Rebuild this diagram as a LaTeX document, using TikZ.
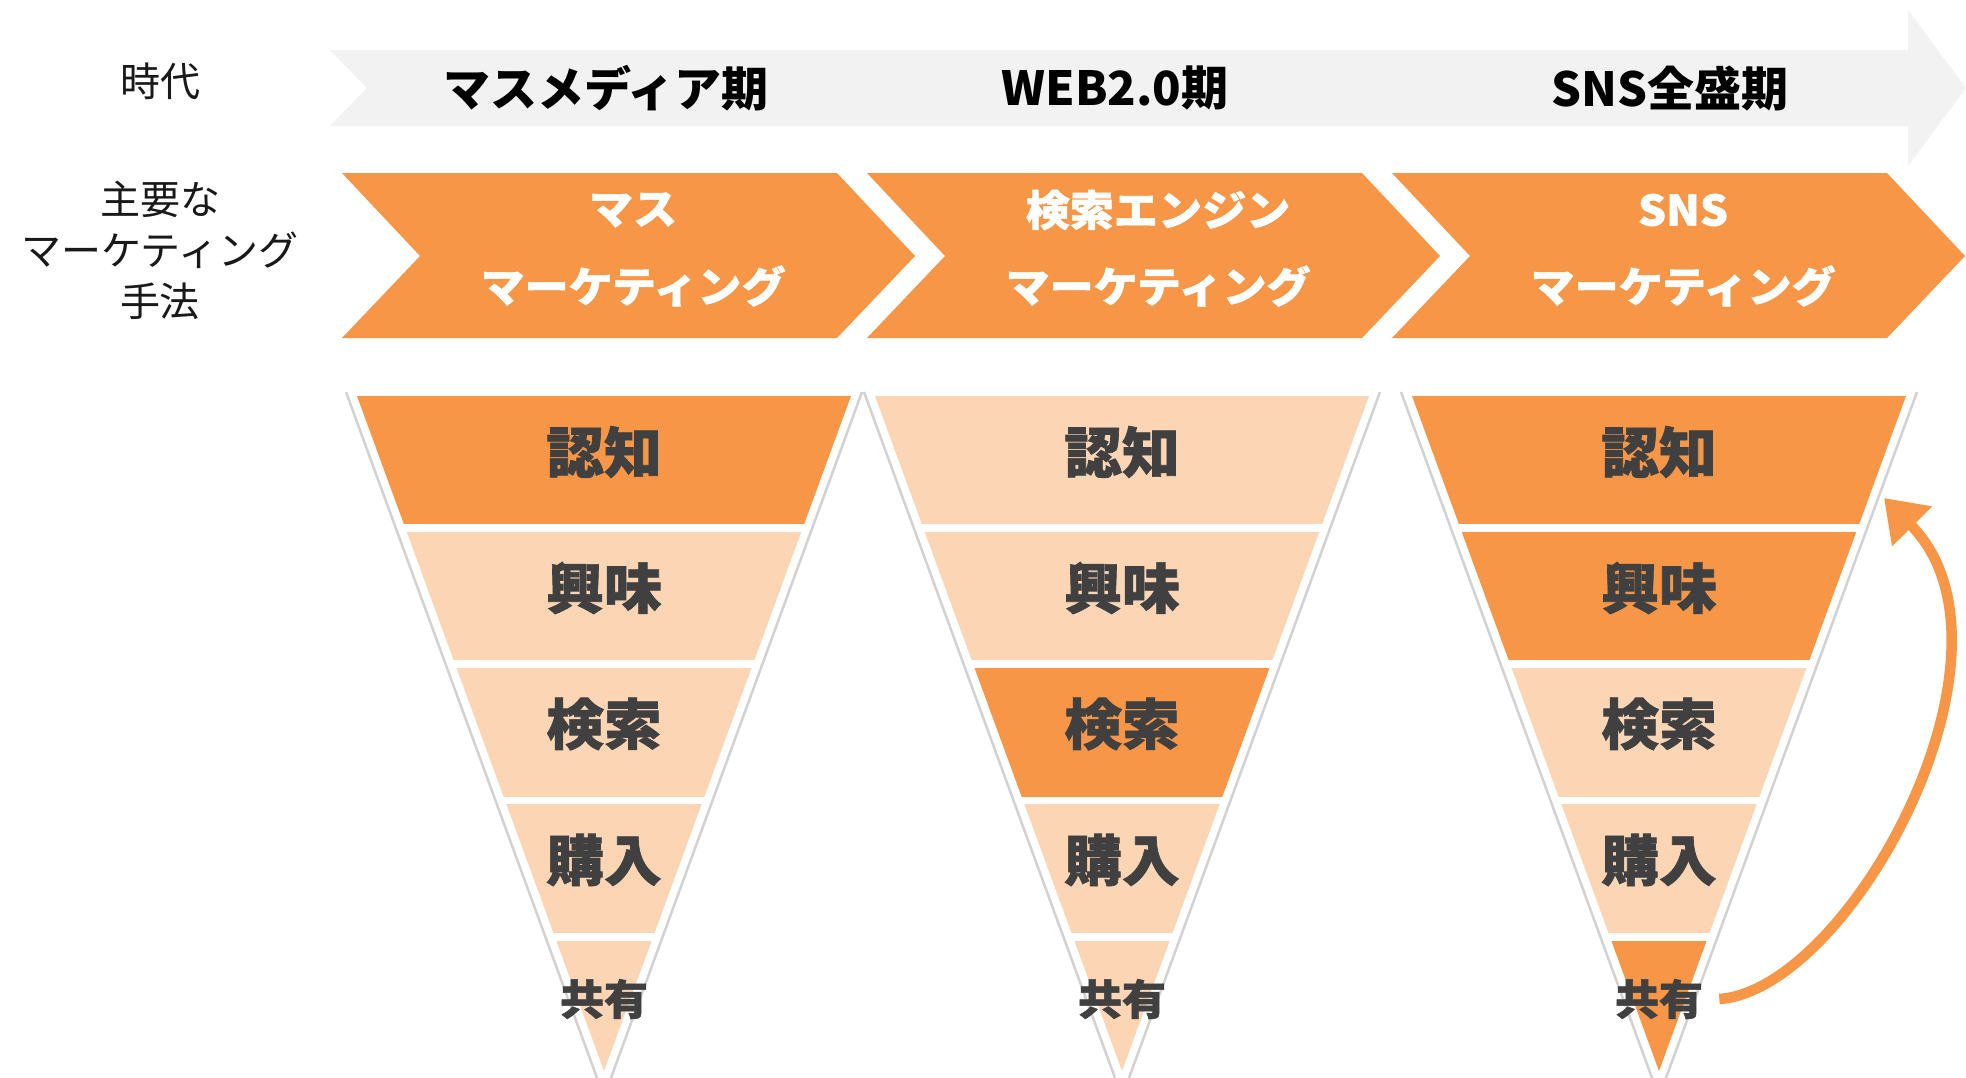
\documentclass[tikz,border=0pt]{standalone}
\usepackage{fontspec}
\setmainfont{Noto Sans CJK JP}
\newfontfamily\heavyjp{Noto Sans CJK JP}[BoldFeatures={FakeBold=1.2,FakeStretch=1.05}]
\usetikzlibrary{arrows.meta}
\definecolor{orD}{HTML}{F79646}
\definecolor{orL}{HTML}{FCD5B5}
\definecolor{arrgray}{HTML}{F2F2F2}
\definecolor{txtgray}{HTML}{404040}
\begin{document}
\begin{tikzpicture}[x=1pt,y=-1pt,
  toplbl/.style={font=\fontsize{47}{50}\selectfont\bfseries, text=black, inner sep=0pt},
  chevtxt/.style={font=\heavyjp\fontsize{42}{46}\selectfont\bfseries, text=white, inner sep=0pt},
  sidelbl/.style={font=\fontsize{40}{51}\selectfont, text=black!90, align=center, inner sep=0pt},
  funtxt/.style={font=\heavyjp\fontsize{55}{60}\selectfont\bfseries, text=txtgray, inner sep=0pt},
  funsmall/.style={font=\heavyjp\fontsize{42}{46}\selectfont\bfseries, text=txtgray, inner sep=0pt},
  chevron/.style={fill=orD},
  border/.style={draw=gray!35, line width=2.5pt},
  sharearrow/.style={draw=orD, line width=10.5pt, -{Triangle[length=40pt,width=54pt]}}
]
\useasboundingbox (0,0) rectangle (1966,1077);
\fill[white] (0,0) rectangle (1966,1077);

% era arrow
\fill[arrgray] (330,50) -- (1908,50) -- (1908,10) -- (1966,88) -- (1908,166) -- (1908,126) -- (330,126) -- (367,88) -- cycle;
\node[sidelbl] (era) at (160,81) {時代};
\node[toplbl] (e1) at (606,88) {マスメディア期};
\node[toplbl] (e2) at (1115,88) {WEB2.0期};
\node[toplbl] (e3) at (1670,88) {SNS全盛期};

% chevrons
\node[sidelbl] (method) at (160,250) {主要な\\マーケティング\\手法};
\foreach \L/\nm/\top in {342/a/マス, 867/b/検索エンジン, 1392/c/SNS}{
  \fill[chevron] (\L,173) -- ({\L+495},173) -- ({\L+573},256) -- ({\L+495},338) -- (\L,338) -- ({\L+78},256) -- cycle;
  \node[chevtxt] (ch\nm-1) at ({\L+291},210) {\top};
  \node[chevtxt] (ch\nm-2) at ({\L+291},286) {マーケティング};
}

% funnels
\foreach \c/\ca/\cb/\cc/\cd/\ce/\nm in {604/orD/orL/orL/orL/orL/a, 1122/orL/orL/orD/orL/orL/b, 1659/orD/orD/orL/orL/orD/c}{
  \draw[border] ({\c-258},392) -- (\c,1097) -- ({\c+258},392);
  \begin{scope}
    \clip ({\c-247},396) -- ({\c+247},396) -- (\c,1071) -- cycle;
    \fill[\ca] ({\c-260},396) rectangle ({\c+260},524);
    \fill[\cb] ({\c-260},532) rectangle ({\c+260},660);
    \fill[\cc] ({\c-260},668) rectangle ({\c+260},797);
    \fill[\cd] ({\c-260},804) rectangle ({\c+260},933);
    \fill[\ce] ({\c-260},941) rectangle ({\c+260},1080);
  \end{scope}
  \node[funtxt] (f\nm-1) at (\c,452) {認知};
  \node[funtxt] (f\nm-2) at (\c,588) {興味};
  \node[funtxt] (f\nm-3) at (\c,724) {検索};
  \node[funtxt] (f\nm-4) at (\c,860) {購入};
  \node[funsmall] (f\nm-5) at (\c,999) {共有};
}

% share arrow
\coordinate (arrE) at (1884,498);
\draw[sharearrow] ([xshift=16pt]fc-5.east) .. controls (1850,990) and (2035,650) .. (arrE);
\end{tikzpicture}
\end{document}
